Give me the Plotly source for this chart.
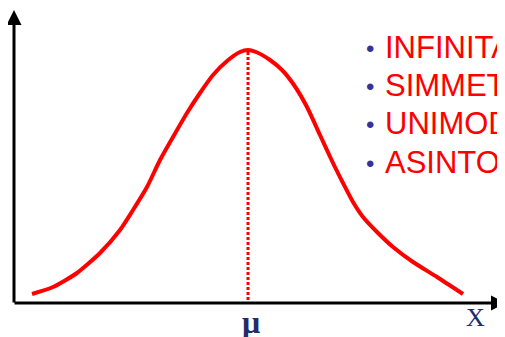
import plotly.graph_objects as go

# Curve (pixel coordinates, y grows downwards)
curve_x = [32, 53, 77, 100, 120, 133, 147, 160, 173, 187, 200, 213, 227, 240, 248,
           256, 270, 282, 294, 307, 320, 333, 343, 353, 363, 377, 393, 413, 437, 463]
curve_y = [294, 287, 273, 253, 230, 210, 187, 160, 137, 113, 93, 75, 61, 52, 50,
           52, 60, 70, 85, 107, 135, 163, 183, 202, 217, 232, 247, 262, 277, 294]

mu_x = 248
peak_y = 50
axis_y = 303
axis_x = 14

properties = ["INFINITA", "SIMMETRICA", "UNIMODALE", "ASINTOTICA"]
row_y = [47, 85, 123, 162]

red = "#ff0000"
navy = "#1f2d6b"
bullet_blue = "#333399"

# the page body has an 8px margin, so the figure is a bit smaller
# and the ranges start at 8 to keep the picture in place
pad = 8

fig = go.Figure()

# bell curve
fig.add_trace(go.Scatter(
    x=curve_x, y=curve_y, mode="lines",
    line=dict(color=red, width=4, shape="spline", smoothing=0.6),
    hoverinfo="skip"
))

# dotted line at the mean
fig.add_trace(go.Scatter(
    x=[mu_x, mu_x], y=[peak_y + 2, axis_y], mode="lines",
    line=dict(color=red, width=3, dash="3px,2px"),
    hoverinfo="skip"
))

annotations = []

# axes with arrows
annotations.append(dict(x=axis_x, y=10, ax=axis_x, ay=axis_y + 1, xref="x", yref="y",
                        axref="x", ayref="y", showarrow=True, arrowhead=2,
                        arrowsize=1, arrowwidth=3, arrowcolor="black", text=""))
annotations.append(dict(x=506, y=axis_y, ax=axis_x - 1, ay=axis_y, xref="x", yref="y",
                        axref="x", ayref="y", showarrow=True, arrowhead=2,
                        arrowsize=1, arrowwidth=3, arrowcolor="black", text=""))

# bullet list
for label, yy in zip(properties, row_y):
    annotations.append(dict(x=370, y=yy + 1, xref="x", yref="y", text="•",
                            showarrow=False, xanchor="center", yanchor="middle",
                            font=dict(family="Liberation Sans", size=24, color=bullet_blue)))
    annotations.append(dict(x=383, y=yy, xref="x", yref="y", text=label,
                            showarrow=False, xanchor="left", yanchor="middle",
                            font=dict(family="Liberation Sans", size=31, color=red)))

# axis labels
annotations.append(dict(x=251, y=322, xref="x", yref="y", text="<b>μ</b>",
                        showarrow=False, xanchor="center", yanchor="middle",
                        font=dict(family="Liberation Serif", size=32, color=navy)))
annotations.append(dict(x=475, y=317, xref="x", yref="y", text="X",
                        showarrow=False, xanchor="center", yanchor="middle",
                        font=dict(family="Liberation Serif", size=26, color=navy)))

fig.update_layout(
    width=505 - pad, height=337 - pad,
    margin=dict(l=0, r=0, t=0, b=0),
    paper_bgcolor="white", plot_bgcolor="white",
    showlegend=False,
    xaxis=dict(range=[pad, 505], visible=False, fixedrange=True),
    yaxis=dict(range=[337, pad], visible=False, fixedrange=True),
    annotations=annotations
)

fig.write_html("out.html")
